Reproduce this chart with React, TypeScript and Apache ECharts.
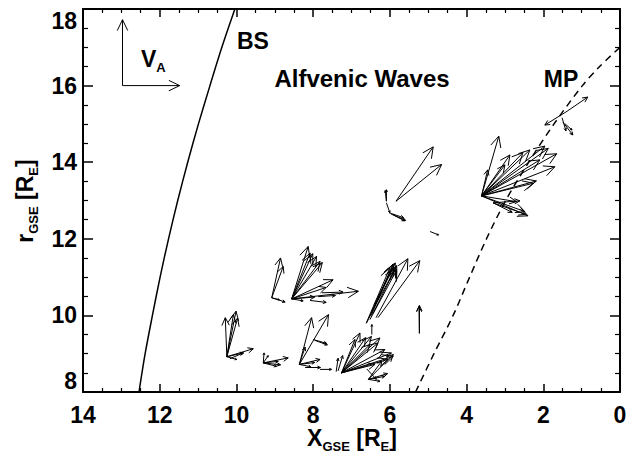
import React, { useEffect, useRef } from "react";
import * as echarts from "echarts";

// Axis ranges / ticks
const xMin = 0;
const xMax = 14;
const yMin = 8;
const yMax = 18;

// Bow shock (BS) curve: r values and X values
const bsR = [8, 9, 10, 11, 12, 13, 14, 15, 16, 17, 18];
const bsX = [12.54, 12.38, 12.19, 11.99, 11.77, 11.53, 11.27, 10.99, 10.69, 10.38, 10.04];

// Magnetopause (MP) curve
const mpR = [8, 9, 10, 11, 12, 13, 14, 15, 16, 16.5, 17];
const mpX = [5.33, 4.85, 4.35, 3.92, 3.48, 2.98, 2.38, 1.72, 0.98, 0.53, 0.0];

// Alfvenic wave vectors: base X, base r, delta X, delta r
const arrowX = [
  10.25, 10.25, 10.25, 10.25, 10.25, 10.25, 10.25, 10.17,
  9.30, 9.30, 9.30, 9.30, 9.30, 9.30,
  8.36, 8.36, 8.36, 8.36, 8.36, 8.36, 8.00, 7.96, 8.21, 7.82,
  9.08, 9.08, 9.08, 9.08,
  8.56, 8.56, 8.56, 8.56, 8.56, 8.56, 8.56, 8.56, 8.56, 8.56, 8.56, 8.08, 7.87, 7.77,
  7.26, 7.26, 7.26, 7.26, 7.26, 7.26, 7.26, 7.26, 7.26, 7.26, 7.26, 7.26, 7.40, 7.35,
  6.56, 6.56, 6.56, 6.56, 6.56, 6.60,
  6.47,
  6.60, 6.54, 6.47, 6.41, 6.36, 6.31, 6.52, 6.49, 6.44, 6.62,
  5.23, 5.23,
  5.84, 5.84, 6.09, 6.09, 6.09, 6.02, 5.97, 5.92,
  4.95,
  3.61, 3.61, 3.61, 3.61, 3.61, 3.61, 3.61, 3.61, 3.61, 3.61, 3.61, 3.61, 3.61, 3.61, 3.61, 3.61, 3.31, 3.31, 3.31,
  1.41, 1.41, 1.49, 1.43, 1.51,
];
const arrowR = [
  8.92, 8.92, 8.92, 8.92, 8.92, 8.92, 8.92, 8.87,
  8.76, 8.76, 8.76, 8.76, 8.76, 8.76,
  8.72, 8.72, 8.72, 8.72, 8.72, 8.72, 9.37, 9.35, 8.64, 8.59,
  10.46, 10.46, 10.46, 10.46,
  10.43, 10.43, 10.43, 10.43, 10.43, 10.43, 10.43, 10.43, 10.43, 10.43, 10.43, 10.39, 10.49, 10.59,
  8.50, 8.50, 8.50, 8.50, 8.50, 8.50, 8.50, 8.50, 8.50, 8.50, 8.50, 8.50, 8.53, 8.55,
  8.33, 8.33, 8.33, 8.33, 8.33, 8.60,
  9.50,
  9.81, 9.94, 10.10, 10.28, 9.94, 9.94, 9.89, 9.99, 10.05, 9.79,
  9.53, 9.53,
  12.98, 12.98, 12.98, 12.98, 12.94, 12.68, 12.65, 12.63,
  12.19,
  13.12, 13.12, 13.12, 13.12, 13.12, 13.12, 13.12, 13.12, 13.12, 13.12, 13.12, 13.12, 13.12, 13.12, 13.12, 13.12, 12.94, 12.94, 12.94,
  15.31, 15.31, 15.05, 15.00, 15.16,
];
const arrowDX = [
  0.04, -0.24, -0.17, -0.28, -0.69, -0.43, -0.26, -0.35,
  -0.02, -0.65, -0.39, -0.35, -0.13, -0.45,
  -0.32, -0.76, -0.54, -0.40, -0.30, -0.15, -0.35, -0.33, -0.40, -0.30,
  -0.23, -0.30, -0.35, -0.20,
  -0.43, -0.48, -0.55, -0.65, -0.74, -0.80, -1.08, -1.74, -0.90, -0.60, -0.30, -0.42, -0.45, -0.55,
  -0.48, -0.78, -1.00, -0.95, -1.30, -1.35, -0.63, -0.35, -1.13, -1.21, -0.87, -0.74, -0.05, -0.12,
  -0.65, -0.35, -0.43, -0.50, -0.30, -0.25,
  0.00,
  -0.68, -0.68, -0.63, -0.47, -0.83, -1.09, -0.70, -0.58, -0.62, -0.62,
  0.00, 0.01,
  -0.97, -1.19, 0.00, 0.03, -0.09, -0.38, -0.36, -0.33,
  -0.22,
  -0.45, -0.16, -1.08, -1.65, -1.74, -1.96, -1.91, -1.43, -1.35, -1.21, -1.13, -0.91, -0.74, -1.26, -0.61, -1.52, -0.70, -0.85, -0.50,
  0.55, -0.57, -0.26, -0.18, -0.10,
];
const arrowDR = [
  1.02, 1.19, 1.10, 1.01, 0.21, 0.10, -0.07, 0.15,
  0.26, 0.13, 0.04, -0.09, 0.19, -0.05,
  1.22, 1.30, 0.13, 0.05, -0.06, 0.45, -0.10, -0.12, 0.00, 0.00,
  1.04, 0.82, -0.11, -0.05,
  1.37, 1.20, 1.18, 1.11, 0.98, 0.95, 0.50, 0.20, 0.30, 0.05, -0.05, -0.05, 0.03, 0.02,
  1.04, 0.95, 0.91, 0.78, 0.52, 0.43, 0.92, 0.87, 0.61, 0.35, 0.22, 0.74, 0.35, 0.40,
  0.65, 0.48, 0.08, 0.15, -0.05, -0.27,
  0.26,
  1.51, 1.43, 1.15, 0.91, 1.54, 1.49, 1.30, 1.35, 1.25, 1.45,
  0.73, 0.70,
  1.42, 0.96, 0.30, 0.28, -0.26, -0.13, -0.18, -0.15,
  -0.09,
  1.56, 0.68, 1.13, 1.30, 1.24, 1.10, 0.76, 0.39, 0.33, -0.52, -0.41, -0.15, 1.07, 1.20, 0.81, 0.94, 0.05, -0.30, -0.25,
  -0.34, 0.39, -0.34, -0.16, -0.34,
];

// V_A scale arrows
const vaX = [12.97, 12.97];
const vaR = [16.0, 16.0];
const vaDX = [0.0, -1.49];
const vaDR = [1.72, 0.0];

const FONT = '"Liberation Sans", Arial, Helvetica, sans-serif';

function arrowRender(params: any, api: any) {
  const x = api.value(0);
  const r = api.value(1);
  const dx = api.value(2);
  const dr = api.value(3);
  const p0 = api.coord([x, r]);
  const p1 = api.coord([x + dx, r + dr]);
  const vx = p1[0] - p0[0];
  const vy = p1[1] - p0[1];
  const len = Math.sqrt(vx * vx + vy * vy);
  const h = Math.min(12, 0.22 * len);
  const ang = Math.atan2(vy, vx);
  const a = 0.45;
  const l1 = [p1[0] - h * Math.cos(ang - a), p1[1] - h * Math.sin(ang - a)];
  const l2 = [p1[0] - h * Math.cos(ang + a), p1[1] - h * Math.sin(ang + a)];
  return {
    type: "group",
    children: [
      {
        type: "line",
        shape: { x1: p0[0], y1: p0[1], x2: p1[0], y2: p1[1] },
        style: { stroke: "#000", lineWidth: 1 },
      },
      {
        type: "polyline",
        shape: { points: [l1, p1, l2] },
        style: { stroke: "#000", fill: null, lineWidth: 1 },
      },
    ],
  };
}

function makeXAxis(pos: "bottom" | "top") {
  return {
    type: "value",
    position: pos,
    min: xMin,
    max: xMax,
    interval: 2,
    inverse: true,
    axisLine: { show: true, onZero: false, lineStyle: { color: "#000", width: 2 } },
    axisTick: { show: true, inside: true, length: 8, lineStyle: { color: "#000", width: 1.5 } },
    minorTick: { show: true, splitNumber: 4, length: 4, lineStyle: { color: "#000", width: 1.2 } },
    axisLabel: {
      show: pos === "bottom",
      margin: 11,
      fontSize: 23,
      fontWeight: "bold",
      color: "#000",
      fontFamily: FONT,
    },
    splitLine: { show: false },
    minorSplitLine: { show: false },
  };
}

function makeYAxis(pos: "left" | "right") {
  return {
    type: "value",
    position: pos,
    min: yMin,
    max: yMax,
    interval: 2,
    axisLine: { show: true, onZero: false, lineStyle: { color: "#000", width: 2 } },
    axisTick: { show: true, inside: true, length: 10, lineStyle: { color: "#000", width: 1.5 } },
    minorTick: { show: true, splitNumber: 4, length: 5, lineStyle: { color: "#000", width: 1.2 } },
    axisLabel: {
      show: pos === "left",
      margin: 6,
      fontSize: 23,
      fontWeight: "bold",
      color: "#000",
      fontFamily: FONT,
      verticalAlignMinLabel: "bottom",
      verticalAlignMaxLabel: "top",
    },
    splitLine: { show: false },
    minorSplitLine: { show: false },
  };
}

const richB = { fontSize: 23, fontWeight: "bold", fontFamily: FONT, fill: "#000", color: "#000" };
const richS = { fontSize: 13, fontWeight: "bold", fontFamily: FONT, fill: "#000", color: "#000", padding: [16, 0, 0, 0] };

export default function App() {
  const ref = useRef<HTMLDivElement>(null);
  useEffect(() => {
    if (!ref.current) return;
    const chart = echarts.init(ref.current, null, { renderer: "svg" });
    const arrows = arrowX.map((x, i) => [x, arrowR[i], arrowDX[i], arrowDR[i]]);
    const vaArrows = vaX.map((x, i) => [x, vaR[i], vaDX[i], vaDR[i]]);
    const option: any = {
      animation: false,
      backgroundColor: "#fff",
      grid: { left: 83, right: 18, top: 9, bottom: 68, containLabel: false },
      xAxis: [makeXAxis("bottom"), makeXAxis("top")],
      yAxis: [makeYAxis("left"), makeYAxis("right")],
      series: [
        {
          type: "line",
          data: bsX.map((x, i) => [x, bsR[i]]),
          showSymbol: false,
          smooth: 0.3,
          lineStyle: { color: "#000", width: 1.5 },
          xAxisIndex: 0,
          yAxisIndex: 0,
        },
        {
          type: "line",
          data: mpX.map((x, i) => [x, mpR[i]]),
          showSymbol: false,
          smooth: 0.3,
          lineStyle: { color: "#000", width: 1.5, type: [7, 5] },
          xAxisIndex: 0,
          yAxisIndex: 0,
        },
        {
          type: "custom",
          renderItem: arrowRender,
          data: arrows,
          encode: { x: 0, y: 1 },
          xAxisIndex: 0,
          yAxisIndex: 0,
          clip: false,
        },
        {
          type: "custom",
          renderItem: arrowRender,
          data: vaArrows,
          encode: { x: 0, y: 1 },
          xAxisIndex: 0,
          yAxisIndex: 0,
          clip: false,
        },
      ],
      graphic: [
        {
          type: "text",
          x: 237,
          y: 41,
          style: { text: "BS", font: `bold 23px ${FONT}`, fill: "#000", textAlign: "left", textVerticalAlign: "middle" },
        },
        {
          type: "text",
          x: 362,
          y: 78,
          style: { text: "Alfvenic Waves", font: `bold 24px ${FONT}`, fill: "#000", textAlign: "center", textVerticalAlign: "middle" },
        },
        {
          type: "text",
          x: 561,
          y: 79,
          style: { text: "MP", font: `bold 23px ${FONT}`, fill: "#000", textAlign: "center", textVerticalAlign: "middle" },
        },
        {
          type: "text",
          x: 141,
          y: 59,
          style: {
            text: "{b|V}{s|A}",
            font: `bold 23px ${FONT}`,
            fill: "#000",
            textAlign: "left",
            textVerticalAlign: "middle",
            rich: { b: richB, s: richS },
          },
        },
        {
          type: "text",
          x: 352,
          y: 438,
          style: {
            text: "{b|X}{s|GSE}{b| [R}{s|E}{b|]}",
            font: `bold 23px ${FONT}`,
            fill: "#000",
            textAlign: "center",
            textVerticalAlign: "middle",
            rich: { b: richB, s: richS },
          },
        },
        {
          type: "text",
          x: 25,
          y: 201,
          rotation: Math.PI / 2,
          style: {
            text: "{b|r}{s|GSE}{b| [R}{s|E}{b|]}",
            font: `bold 23px ${FONT}`,
            fill: "#000",
            textAlign: "center",
            textVerticalAlign: "middle",
            rich: { b: richB, s: richS },
          },
        },
      ],
    };
    chart.setOption(option);
    return () => chart.dispose();
  }, []);
  return (
    <div
      ref={ref}
      style={{ position: "absolute", left: 0, top: 0, width: 638, height: 460, background: "#fff" }}
    />
  );
}
